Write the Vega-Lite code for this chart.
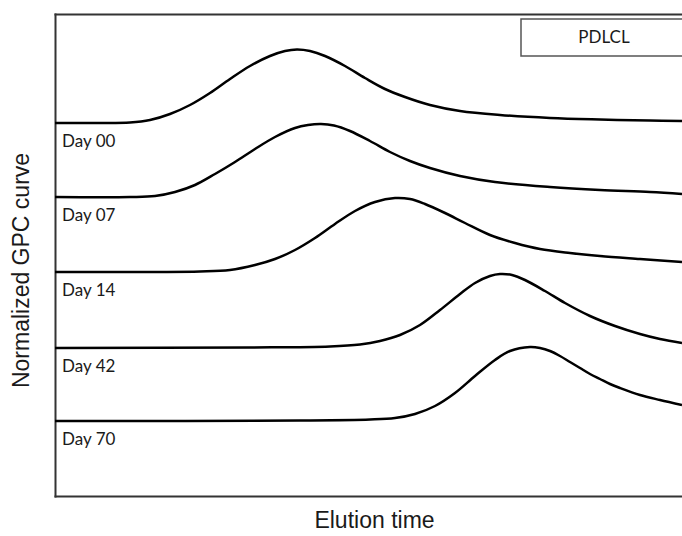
{
  "$schema": "https://vega.github.io/schema/vega-lite/v6.json",
  "width": 627,
  "height": 482,
  "autosize": {"type": "none"},
  "padding": {"left": 55, "top": 14, "right": 0, "bottom": 40},
  "background": "white",
  "config": {
    "view": {"stroke": null},
    "axis": {
      "domainColor": "#333333",
      "domainWidth": 2,
      "domainCap": "square",
      "ticks": false,
      "labels": false,
      "grid": false,
      "titleFont": "Liberation Sans",
      "titleFontWeight": "normal",
      "titleFontSize": 23,
      "titleColor": "#1a1a1a"
    }
  },
  "datasets": {
    "gpc": [
      {"day": "Day 00", "t": 0, "s": 373}, {"day": "Day 00", "t": 45, "s": 373}, {"day": "Day 00", "t": 75, "s": 373.5},
      {"day": "Day 00", "t": 95, "s": 376}, {"day": "Day 00", "t": 115, "s": 382}, {"day": "Day 00", "t": 135, "s": 391},
      {"day": "Day 00", "t": 155, "s": 403}, {"day": "Day 00", "t": 175, "s": 417}, {"day": "Day 00", "t": 195, "s": 430},
      {"day": "Day 00", "t": 215, "s": 440}, {"day": "Day 00", "t": 230, "s": 445}, {"day": "Day 00", "t": 242, "s": 446.5},
      {"day": "Day 00", "t": 255, "s": 445}, {"day": "Day 00", "t": 270, "s": 440}, {"day": "Day 00", "t": 290, "s": 430},
      {"day": "Day 00", "t": 310, "s": 418}, {"day": "Day 00", "t": 330, "s": 407}, {"day": "Day 00", "t": 350, "s": 399},
      {"day": "Day 00", "t": 375, "s": 391}, {"day": "Day 00", "t": 405, "s": 385}, {"day": "Day 00", "t": 445, "s": 381},
      {"day": "Day 00", "t": 495, "s": 378}, {"day": "Day 00", "t": 545, "s": 376.5}, {"day": "Day 00", "t": 595, "s": 375.5},
      {"day": "Day 00", "t": 627, "s": 375},

      {"day": "Day 07", "t": 0, "s": 299}, {"day": "Day 07", "t": 75, "s": 299}, {"day": "Day 07", "t": 100, "s": 300},
      {"day": "Day 07", "t": 120, "s": 304}, {"day": "Day 07", "t": 140, "s": 311}, {"day": "Day 07", "t": 160, "s": 322},
      {"day": "Day 07", "t": 180, "s": 334}, {"day": "Day 07", "t": 200, "s": 347}, {"day": "Day 07", "t": 220, "s": 359},
      {"day": "Day 07", "t": 240, "s": 368}, {"day": "Day 07", "t": 253, "s": 371}, {"day": "Day 07", "t": 266, "s": 372},
      {"day": "Day 07", "t": 279, "s": 370.5}, {"day": "Day 07", "t": 295, "s": 365}, {"day": "Day 07", "t": 315, "s": 355},
      {"day": "Day 07", "t": 335, "s": 344}, {"day": "Day 07", "t": 355, "s": 335}, {"day": "Day 07", "t": 375, "s": 328},
      {"day": "Day 07", "t": 405, "s": 320}, {"day": "Day 07", "t": 440, "s": 314}, {"day": "Day 07", "t": 495, "s": 309},
      {"day": "Day 07", "t": 545, "s": 306}, {"day": "Day 07", "t": 595, "s": 304}, {"day": "Day 07", "t": 627, "s": 302},

      {"day": "Day 14", "t": 0, "s": 224}, {"day": "Day 14", "t": 145, "s": 224.5}, {"day": "Day 14", "t": 175, "s": 226},
      {"day": "Day 14", "t": 200, "s": 231}, {"day": "Day 14", "t": 220, "s": 237}, {"day": "Day 14", "t": 240, "s": 246},
      {"day": "Day 14", "t": 260, "s": 258}, {"day": "Day 14", "t": 280, "s": 272}, {"day": "Day 14", "t": 300, "s": 285},
      {"day": "Day 14", "t": 320, "s": 294}, {"day": "Day 14", "t": 340, "s": 298}, {"day": "Day 14", "t": 355, "s": 297},
      {"day": "Day 14", "t": 370, "s": 292}, {"day": "Day 14", "t": 390, "s": 283}, {"day": "Day 14", "t": 410, "s": 273},
      {"day": "Day 14", "t": 435, "s": 261}, {"day": "Day 14", "t": 460, "s": 253}, {"day": "Day 14", "t": 485, "s": 247},
      {"day": "Day 14", "t": 515, "s": 243}, {"day": "Day 14", "t": 545, "s": 240}, {"day": "Day 14", "t": 585, "s": 237},
      {"day": "Day 14", "t": 627, "s": 234},

      {"day": "Day 42", "t": 0, "s": 148}, {"day": "Day 42", "t": 195, "s": 148.5}, {"day": "Day 42", "t": 275, "s": 149.5},
      {"day": "Day 42", "t": 305, "s": 151.5}, {"day": "Day 42", "t": 325, "s": 155}, {"day": "Day 42", "t": 345, "s": 161},
      {"day": "Day 42", "t": 365, "s": 171}, {"day": "Day 42", "t": 385, "s": 186}, {"day": "Day 42", "t": 405, "s": 202},
      {"day": "Day 42", "t": 420, "s": 213}, {"day": "Day 42", "t": 435, "s": 220}, {"day": "Day 42", "t": 445, "s": 222},
      {"day": "Day 42", "t": 457, "s": 221}, {"day": "Day 42", "t": 470, "s": 216}, {"day": "Day 42", "t": 490, "s": 205},
      {"day": "Day 42", "t": 510, "s": 193}, {"day": "Day 42", "t": 535, "s": 180}, {"day": "Day 42", "t": 560, "s": 170},
      {"day": "Day 42", "t": 585, "s": 162}, {"day": "Day 42", "t": 605, "s": 157}, {"day": "Day 42", "t": 627, "s": 153},

      {"day": "Day 70", "t": 0, "s": 75}, {"day": "Day 70", "t": 245, "s": 75.5}, {"day": "Day 70", "t": 315, "s": 76.5},
      {"day": "Day 70", "t": 340, "s": 78}, {"day": "Day 70", "t": 360, "s": 82}, {"day": "Day 70", "t": 380, "s": 90},
      {"day": "Day 70", "t": 400, "s": 103}, {"day": "Day 70", "t": 420, "s": 120}, {"day": "Day 70", "t": 440, "s": 136},
      {"day": "Day 70", "t": 455, "s": 145}, {"day": "Day 70", "t": 475, "s": 149}, {"day": "Day 70", "t": 485, "s": 148},
      {"day": "Day 70", "t": 495, "s": 145}, {"day": "Day 70", "t": 505, "s": 140}, {"day": "Day 70", "t": 515, "s": 134},
      {"day": "Day 70", "t": 525, "s": 128}, {"day": "Day 70", "t": 535, "s": 122}, {"day": "Day 70", "t": 545, "s": 117},
      {"day": "Day 70", "t": 555, "s": 112}, {"day": "Day 70", "t": 565, "s": 108}, {"day": "Day 70", "t": 585, "s": 101},
      {"day": "Day 70", "t": 605, "s": 96}, {"day": "Day 70", "t": 627, "s": 91}
    ],
    "sample": [{"name": "PDLCL"}]
  },
  "layer": [
    {
      "data": {"name": "gpc"},
      "mark": {"type": "line", "interpolate": "catmull-rom", "color": "black", "strokeWidth": 2.5},
      "encoding": {
        "x": {
          "field": "t", "type": "quantitative",
          "scale": {"domain": [0, 627], "nice": false, "zero": false},
          "axis": {"orient": "bottom", "title": "Elution time", "titlePadding": 13, "titleX": 319}
        },
        "y": {
          "field": "s", "type": "quantitative",
          "scale": {"domain": [0, 482], "nice": false, "zero": false},
          "axis": {"orient": "left", "title": "Normalized GPC curve", "titlePadding": 22, "titleY": 256}
        },
        "detail": {"field": "day"}
      }
    },
    {
      "data": {"name": "gpc"},
      "transform": [{"filter": "datum.t === 0"}],
      "mark": {"type": "text", "align": "left", "baseline": "alphabetic", "dx": 7, "dy": 24, "font": "Lato", "fontSize": 17, "color": "#1a1a1a"},
      "encoding": {
        "x": {"field": "t", "type": "quantitative", "axis": {"orient": "top", "title": null}},
        "y": {"field": "s", "type": "quantitative"},
        "text": {"field": "day"}
      }
    },
    {
      "data": {"name": "sample"},
      "mark": {"type": "rect", "fill": "white", "stroke": "#555555", "strokeWidth": 1.5},
      "encoding": {
        "x": {"datum": 466, "type": "quantitative", "axis": null},
        "x2": {"datum": 640},
        "y": {"datum": 477, "type": "quantitative"},
        "y2": {"datum": 440}
      }
    },
    {
      "data": {"name": "sample"},
      "mark": {"type": "text", "align": "center", "baseline": "middle", "font": "Lato", "fontSize": 17, "color": "#1a1a1a"},
      "encoding": {
        "x": {"datum": 549, "type": "quantitative", "axis": null},
        "y": {"datum": 458.5, "type": "quantitative"},
        "text": {"field": "name"}
      }
    }
  ],
  "resolve": {"axis": {"x": "independent"}}
}
